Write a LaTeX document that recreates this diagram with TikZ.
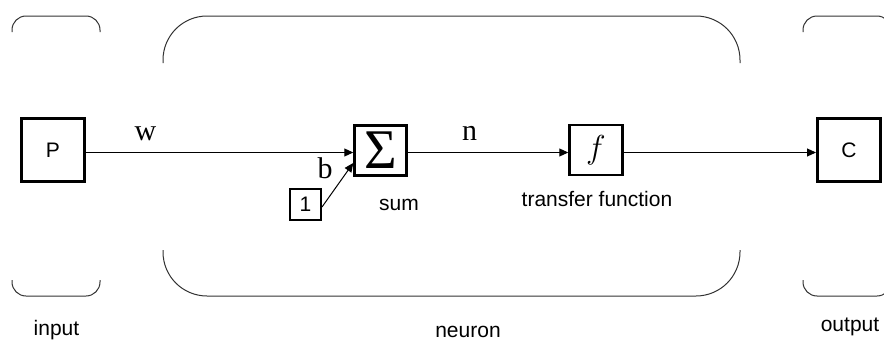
\documentclass[tikz,border=0pt]{standalone}
\usepackage{graphicx}
\usepackage{fontspec}
\setmainfont{Liberation Sans}
\newfontfamily\serifrm{Liberation Serif}
\usetikzlibrary{arrows.meta}
\begin{document}
\begin{tikzpicture}[x=1pt,y=-1pt,
  lbl/.style={font=\fontsize{21}{21}\selectfont, anchor=base, inner sep=0pt},
  sym/.style={font=\fontsize{30}{30}\selectfont\serifrm, anchor=base, inner sep=0pt},
  iobox/.style={draw, line width=3pt, minimum width=63pt, minimum height=63pt, inner sep=0pt, font=\fontsize{21}{21}\selectfont},
  opbox/.style={draw, line width=2.5pt, minimum width=52pt, minimum height=50pt, inner sep=0pt},
  onebox/.style={draw, line width=2pt, minimum size=31pt, inner sep=0pt, font=\fontsize{21}{21}\selectfont},
  bracket/.style={draw=black!80, line width=1pt},
  conn/.style={line width=1pt, -{Triangle[length=9pt,width=8pt]}},
]
\useasboundingbox (0,0) rectangle (884,340);
\clip (0,0) rectangle (884,340);

% brackets
\draw[bracket, rounded corners=14pt] (12,32) -- (12,16) -- (100,16) -- (100,32);
\draw[bracket, rounded corners=14pt] (12,280) -- (12,296) -- (100,296) -- (100,280);
\draw[bracket, rounded corners=44pt] (163,63) -- (163,16) -- (740,16) -- (740,63);
\draw[bracket, rounded corners=44pt] (163,250) -- (163,296) -- (740,296) -- (740,250);
\draw[bracket, rounded corners=14pt] (803,32) -- (803,16) -- (891,16) -- (891,32);
\draw[bracket, rounded corners=14pt] (803,280) -- (803,296) -- (891,296) -- (891,280);

% blocks
\node[iobox] (P) at (53,150) {P};
\node[opbox] (sum) at (380.5,150.5) {\fontsize{56}{56}\selectfont\serifrm\char"03A3};
\node[opbox, minimum width=53pt] (f) at (596,150) {\scalebox{1.6}{\fontsize{20.74}{21}\selectfont$f$}};
\node[iobox] (C) at (849,150) {C};
\node[onebox] (one) at (305.5,204.5) {1};

% connectors
\draw[conn] ([yshift=-2.5pt]P.east) -- ([yshift=-2pt]sum.west);
\draw[conn] ([yshift=-2.5pt]one.east) -- ([yshift=-12.5pt]sum.west);
\draw[conn] ([yshift=-2pt]sum.east) -- ([yshift=-2.5pt]f.west);
\draw[conn] ([yshift=-2.5pt]f.east) -- ([yshift=-2.5pt]C.west);

% labels
\node[sym] (w) at (145.5,140) {w};
\node[sym] (n) at (469.5,140) {n};
\node[sym] (b) at (325,178) {b};
\node[lbl] (sumlbl) at (399,210) {sum};
\node[lbl] (tflbl) at (597,206) {transfer function};
\node[lbl] (inlbl) at (56.5,335) {input};
\node[lbl] (neulbl) at (468,337) {neuron};
\node[lbl] (outlbl) at (850,331) {output};
\end{tikzpicture}
\end{document}
